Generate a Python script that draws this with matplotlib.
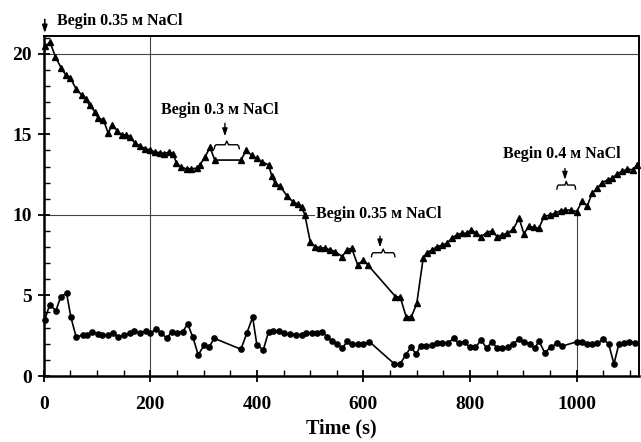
import matplotlib
matplotlib.use("Agg")
import matplotlib.pyplot as plt
from matplotlib.ticker import MultipleLocator

# ---- data ----
t_tri = [2, 12, 22, 33, 41, 50, 61, 71, 79, 86, 96, 102, 112, 121, 129, 138, 146, 155,
         162, 171, 180, 190, 199, 208, 218, 226, 235, 243, 249, 258, 268, 277, 287, 293,
         303, 312, 321, 370, 380, 390, 400, 409, 422, 428, 434, 444, 456, 468, 478, 484,
         490, 500, 509, 519, 528, 538, 547, 560, 569, 578, 589, 600, 608, 660, 669, 680,
         690, 700, 712, 719, 729, 738, 747, 756, 766, 775, 785, 794, 802, 812, 821, 831,
         841, 851, 860, 870, 881, 892, 901, 910, 920, 929, 939, 950, 960, 970, 979, 989,
         1000, 1010, 1020, 1029, 1039, 1048, 1058, 1067, 1076, 1086, 1095, 1105, 1114]
v_tri = [20.45, 20.7, 19.8, 19.1, 18.7, 18.5, 17.8, 17.45, 17.2, 16.8, 16.4, 16.0, 15.9,
         15.07, 15.6, 15.2, 14.97, 14.97, 14.85, 14.45, 14.3, 14.1, 14.04, 13.9, 13.86,
         13.8, 13.9, 13.8, 13.2, 12.97, 12.85, 12.85, 12.9, 13.1, 13.6, 14.2, 13.4, 13.4,
         14.0, 13.7, 13.5, 13.3, 13.1, 12.4, 11.97, 11.76, 11.2, 10.8, 10.66, 10.5, 10.0,
         8.34, 8.03, 7.97, 7.93, 7.83, 7.72, 7.41, 7.83, 7.93, 6.9, 7.2, 6.9, 4.93, 4.89,
         3.68, 3.68, 4.5, 7.31, 7.66, 7.83, 8.03, 8.1, 8.24, 8.55, 8.76, 8.86, 8.86, 9.07,
         8.86, 8.65, 8.9, 9.0, 8.65, 8.76, 8.86, 9.1, 9.8, 8.82, 9.3, 9.22, 9.17, 9.9,
         10.0, 10.1, 10.27, 10.3, 10.3, 10.2, 10.83, 10.56, 11.35, 11.66, 12.0, 12.17,
         12.27, 12.55, 12.7, 12.84, 12.8, 13.1]

t_circ = [2, 11, 23, 32, 43, 51, 61, 73, 81, 91, 101, 110, 121, 130, 140, 150, 161, 170,
          180, 191, 200, 210, 221, 231, 240, 250, 261, 270, 280, 290, 301, 310, 320, 370,
          381, 392, 400, 412, 422, 431, 442, 451, 462, 473, 484, 493, 503, 513, 523, 532,
          541, 551, 560, 570, 579, 589, 600, 611, 658, 669, 679, 689, 699, 707, 718, 729,
          738, 748, 759, 769, 779, 790, 799, 810, 821, 831, 841, 851, 860, 871, 881, 891,
          902, 912, 922, 929, 940, 951, 964, 973, 1001, 1010, 1019, 1029, 1039, 1050, 1060,
          1070, 1079, 1089, 1099, 1109]
v_circ = [3.48, 4.41, 4.06, 4.93, 5.13, 3.65, 2.4, 2.55, 2.57, 2.71, 2.6, 2.55, 2.55, 2.69,
          2.4, 2.55, 2.65, 2.8, 2.65, 2.8, 2.65, 2.9, 2.65, 2.34, 2.75, 2.69, 2.75, 3.23,
          2.4, 1.3, 1.93, 1.78, 2.34, 1.66, 2.65, 3.65, 1.93, 1.62, 2.75, 2.8, 2.8, 2.65,
          2.6, 2.55, 2.55, 2.69, 2.69, 2.65, 2.7, 2.45, 2.2, 2.0, 1.72, 2.17, 1.96, 2.0,
          1.96, 2.13, 0.75, 0.75, 1.3, 1.78, 1.37, 1.86, 1.86, 1.93, 2.03, 2.06, 2.06,
          2.34, 2.03, 2.13, 1.78, 1.78, 2.24, 1.72, 2.13, 1.72, 1.72, 1.78, 1.99, 2.28,
          2.13, 1.99, 1.72, 2.19, 1.45, 1.78, 2.03, 1.86, 2.13, 2.13, 1.99, 1.99, 2.03,
          2.28, 1.99, 0.75, 1.96, 2.03, 2.13, 2.06]

x_ticks = [0, 200, 400, 600, 800, 1000]
y_ticks = [0, 5, 10, 15, 20]
x_label = "Time (s)"

# annotations: (text, text_x, text_y, arrow_x, arrow_y0, arrow_y1, brace_x0, brace_x1, brace_y)
SC_M = "\u1D0D"
notes = [
    ("Begin 0.3 " + SC_M + " NaCl", 221, 16.5, 340, 15.85, 14.7, 320, 367, 14.35),
    ("Begin 0.35 " + SC_M + " NaCl", 511, 10.05, 631, 8.85, 7.8, 615, 659, 7.65),
    ("Begin 0.4 " + SC_M + " NaCl", 861, 13.8, 978, 13.05, 12.0, 963, 998, 11.85),
]

FAM = ["Liberation Serif", "DejaVu Serif"]
plt.rcParams["font.family"] = FAM
plt.rcParams["font.weight"] = "bold"

fig = plt.figure(figsize=(6.41, 4.42), dpi=100)
ax = fig.add_axes([0.0682, 0.1493, 0.9287, 0.7693])
ax.set_xlim(0, 1117)
ax.set_ylim(0, 21.1)

# reference lines
ref_c = "#444444"
ax.axhline(20, color=ref_c, lw=0.8, zorder=1)
ax.axvline(200, color=ref_c, lw=0.8, zorder=1)
ax.plot([0, 507], [10, 10], color=ref_c, lw=0.8, zorder=1)
ax.plot([1000, 1000], [0, 10.2], color=ref_c, lw=0.8, zorder=1)

ax.plot(t_tri, v_tri, color="black", lw=1.2, marker="^", ms=4.7, zorder=3, clip_on=False)
ax.plot(t_circ, v_circ, color="black", lw=1.2, marker="o", ms=3.8, zorder=3, clip_on=False)

fs_note = 11.5
arrow_style = "-|>,head_length=0.45,head_width=0.15"
# top-left annotation
ax.annotate("", xy=(2, 21.1), xytext=(2, 22.3), annotation_clip=False,
            arrowprops=dict(arrowstyle=arrow_style, color="black", lw=1.2))
ax.text(25, 22.05, "Begin 0.35 " + SC_M + " NaCl", fontsize=fs_note, fontweight="bold",
        va="center", ha="left", clip_on=False)


def brace(x0, x1, y, h=0.25):
    xm = (x0 + x1) / 2
    d = (x1 - x0) * 0.07
    xs = [x0, x0 + d * 0.3, x0 + d, xm - d, xm, xm + d, x1 - d, x1 - d * 0.3, x1]
    ys = [y - h, y - h * 0.35, y, y, y + h * 0.9, y, y, y - h * 0.35, y - h]
    ax.plot(xs, ys, color="black", lw=1.0, zorder=4)


for txt, tx, ty, axx, ay0, ay1, bx0, bx1, by in notes:
    ax.text(tx, ty, txt, fontsize=fs_note, fontweight="bold", va="center", ha="left")
    ax.annotate("", xy=(axx, ay1), xytext=(axx, ay0),
                arrowprops=dict(arrowstyle=arrow_style, color="black", lw=1.0))
    brace(bx0, bx1, by)

# axes styling
for s in ["left", "bottom"]:
    ax.spines[s].set_linewidth(1.8)
for s in ["top", "right"]:
    ax.spines[s].set_linewidth(1.4)

ax.set_xticks(x_ticks)
ax.set_yticks(y_ticks)
ax.xaxis.set_minor_locator(MultipleLocator(50))
ax.yaxis.set_minor_locator(MultipleLocator(1))
ax.tick_params(which="major", direction="inout", length=9, width=1.3, labelsize=14)
ax.tick_params(axis="x", which="major", pad=10)
ax.tick_params(axis="y", which="major", pad=4)
ax.tick_params(which="minor", direction="in", length=4, width=1.0)
ax.tick_params(top=False, right=False, which="both")
for lab in ax.get_xticklabels() + ax.get_yticklabels():
    lab.set_fontweight("bold")
ax.set_xlabel(x_label, fontsize=14.5, fontweight="bold", labelpad=4)

fig.savefig("out.png", dpi=100)
